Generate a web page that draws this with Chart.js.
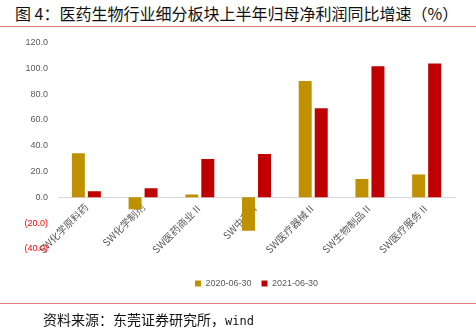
<!DOCTYPE html>
<html>
<head>
<meta charset="utf-8">
<script src="https://cdn.jsdelivr.net/npm/chart.js@4/dist/chart.umd.min.js"></script>
<style>
  html, body { margin: 0; padding: 0; background: #fff; }
  body { width: 476px; height: 328px; position: relative; overflow: hidden; font-family: "Noto Sans CJK SC", sans-serif; }
  .title { position: absolute; left: 15px; top: 3px; font-size: 16px; line-height: 20px; color: #111; white-space: nowrap; }
  .rule { position: absolute; left: 0; width: 476px; height: 1px; background: #e07a7a; }
  .source { position: absolute; left: 43px; top: 309px; font-size: 14px; line-height: 20px; color: #111; white-space: nowrap; }
  .source .latin { font-family: "DejaVu Sans Mono", monospace; font-size: 12px; }
  .wrap { position: absolute; left: 0; top: 27px; width: 476px; height: 293px; }
</style>
</head>
<body>
<div class="wrap"><canvas id="chart"></canvas></div>
<div class="title">图 4：医药生物行业细分板块上半年归母净利润同比增速（%）</div>
<div class="rule" style="top:26px"></div>
<div class="rule" style="top:303px"></div>
<div class="source">资料来源：东莞证券研究所，<span class="latin">wind</span></div>
<script>
const GOLD = '#bf9000';
const RED = '#c00000';
const TEXT = '#595959';

const categories = ['SW化学原料药', 'SW化学制剂', 'SW医药商业Ⅱ', 'SW中药Ⅱ', 'SW医疗器械Ⅱ', 'SW生物制品Ⅱ', 'SW医疗服务Ⅱ'];
const series2020 = [34.1, -9.3, 2.3, -25.8, 90.2, 14.2, 17.6];
const series2021 = [4.7, 7.0, 29.7, 33.6, 69.0, 101.5, 103.6];
const yTicks = [-40, -20, 0, 20, 40, 60, 80, 100, 120];

new Chart(document.getElementById('chart'), {
    type: 'bar',
    data: {
        labels: categories,
        datasets: [
            { label: '2020-06-30', data: series2020, backgroundColor: GOLD },
            { label: '2021-06-30', data: series2021, backgroundColor: RED },
        ],
    },
    options: {
        responsive: true,
        maintainAspectRatio: false,
        animation: false,
        datasets: {
            bar: { categoryPercentage: 0.565, barPercentage: 0.81 },
        },
        layout: { padding: { left: 0, right: 21, top: 0, bottom: 22 } },
        plugins: {
            tooltip: { enabled: false },
            legend: {
                position: 'bottom',
                fullSize: false,
                // empty title only pushes the legend items down, away from the axis labels
                title: { display: true, text: '', padding: 0, font: { size: 20, lineHeight: 1 } },
                labels: {
                    color: TEXT,
                    boxWidth: 6,
                    boxHeight: 6,
                    padding: 10,
                    font: { family: 'Liberation Sans, Arial, sans-serif', size: 9 },
                },
            },
        },
        scales: {
            x: {
                position: { y: 0 },
                grid: { display: false, drawTicks: false },
                border: { display: true, color: '#d9d9d9', width: 1 },
                ticks: {
                    color: TEXT,
                    maxRotation: 45,
                    minRotation: 45,
                    padding: 4,
                    font: { family: 'Noto Sans CJK SC, sans-serif', size: 10 },
                },
            },
            y: {
                min: yTicks[0],
                max: yTicks[yTicks.length - 1],
                afterBuildTicks(scale) {
                    scale.ticks = yTicks.map((v) => ({ value: v }));
                },
                afterFit(scale) {
                    scale.width = 58;
                },
                grid: { display: false, drawTicks: false },
                border: { display: false },
                ticks: {
                    padding: 10,
                    color(ctx) {
                        return ctx.tick.value < 0 ? '#ff0000' : TEXT;
                    },
                    font: { family: 'Liberation Sans, Arial, sans-serif', size: 9 },
                    callback(v) {
                        return v < 0 ? '(' + Math.abs(v).toFixed(1) + ')' : v.toFixed(1);
                    },
                },
            },
        },
    },
});
</script>
</body>
</html>
